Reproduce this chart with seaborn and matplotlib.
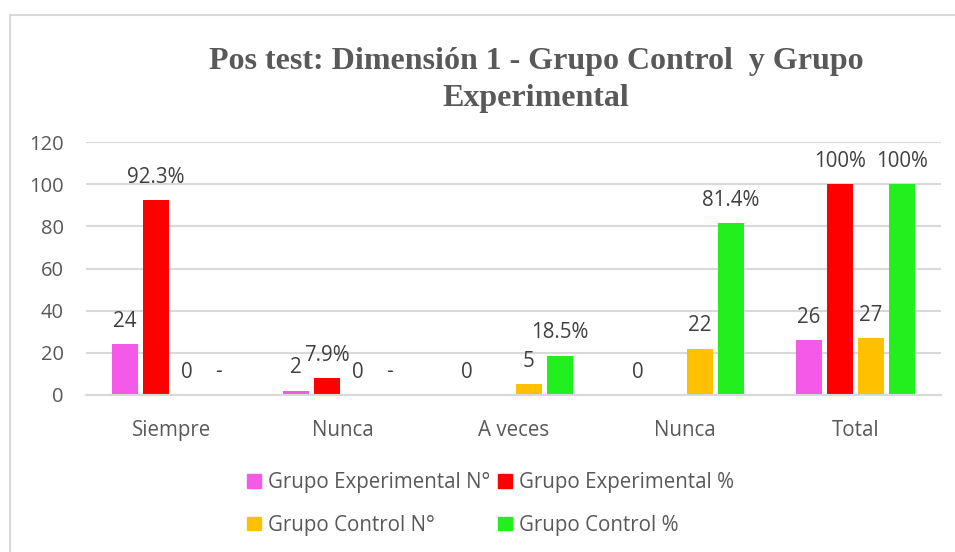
import numpy as np
import pandas as pd
import seaborn as sns
import matplotlib.pyplot as plt
from matplotlib.patches import Patch
from matplotlib.lines import Line2D

# categories (Nunca appears twice in the original chart)
categories = ["Siempre", "Nunca", "A veces", "Nunca", "Total"]
series = ["Grupo Experimental N°", "Grupo Experimental %", "Grupo Control N°", "Grupo Control %"]

ge_n = [24, 2, 0, 0, 26]
ge_pct = [92.3, 7.9, 0, 0, 100]
gc_n = [0, 0, 5, 22, 27]
gc_pct = [0, 0, 18.5, 81.4, 100]

# data labels as they appear on the chart
ge_n_lbl = ["24", "2", "0", "0", "26"]
ge_pct_lbl = ["92.3%", "7.9%", "", "", "100%"]
gc_n_lbl = ["0", "0", "5", "22", "27"]
gc_pct_lbl = ["-", "-", "18.5%", "81.4%", "100%"]

colors = ["#F559E8", "#FF0000", "#FFC000", "#22F01E"]

# long format, positions used as keys because of the repeated category name
rows = []
for vals, name in zip([ge_n, ge_pct, gc_n, gc_pct], series):
    for i, v in enumerate(vals):
        rows.append({"pos": str(i), "serie": name, "valor": v})
df = pd.DataFrame(rows)

sns.set_style("white")
plt.rcParams["font.family"] = ["Open Sans", "DejaVu Sans"]

fig = plt.figure(figsize=(9.55, 5.52), dpi=100)
ax = fig.add_axes([86 / 955, 1 - 395 / 552, (941 - 86) / 955, (395 - 142) / 552])

sns.barplot(data=df, x="pos", y="valor", hue="serie", order=[str(i) for i in range(5)],
            hue_order=series, palette=colors, saturation=1, width=0.725, gap=0.19,
            linewidth=0, ax=ax, legend=False)

text_col = "#404040"
for cont, lbls in zip(ax.containers, [ge_n_lbl, ge_pct_lbl, gc_n_lbl, gc_pct_lbl]):
    ax.bar_label(cont, labels=lbls, padding=9, fontsize=14.8, color=text_col)

ax.set_ylim(0, 120)
ax.set_yticks(range(0, 121, 20))
ax.set_xticks(range(5))
ax.set_xticklabels(categories)
ax.set_xlim(-0.5, 4.5)
ax.set_xlabel("")
ax.set_ylabel("")
ax.grid(axis="y", color="#D9D9D9", linewidth=1.5)
ax.set_axisbelow(True)
for s in ["top", "right", "left"]:
    ax.spines[s].set_visible(False)
ax.spines["bottom"].set_color("#D9D9D9")
ax.spines["bottom"].set_linewidth(1.5)
ax.tick_params(axis="y", length=0, pad=16, labelsize=14.5, labelcolor="#595959")
ax.tick_params(axis="x", length=0, pad=18, labelsize=14.8, labelcolor="#595959")

fig.text(536 / 955, 1 - 80 / 552, "Pos test: Dimensión 1 - Grupo Control  y Grupo\nExperimental",
         ha="center", va="center", fontsize=23, fontweight="bold", color="#595959",
         family="Liberation Serif", linespacing=1.36)

# legend, row by row like the original
handles = [Patch(color=c) for c in colors]
order = [0, 2, 1, 3]
fig.legend([handles[i] for i in order], [series[i] for i in order], ncol=2,
           loc="center left", bbox_to_anchor=(237 / 955, 1 - 504 / 552), frameon=False,
           fontsize=14.8, labelcolor="#595959", handlelength=0.65, handleheight=0.65,
           handletextpad=0.35, columnspacing=0.4, labelspacing=1.05, borderpad=0)

# chart area border
fig.add_artist(Line2D([10 / 955, 10 / 955], [0, 1 - 15 / 552], color="#D9D9D9", lw=1.5))
fig.add_artist(Line2D([10 / 955, 1], [1 - 15 / 552, 1 - 15 / 552], color="#D9D9D9", lw=1.5))

fig.savefig("out.png", dpi=100)
